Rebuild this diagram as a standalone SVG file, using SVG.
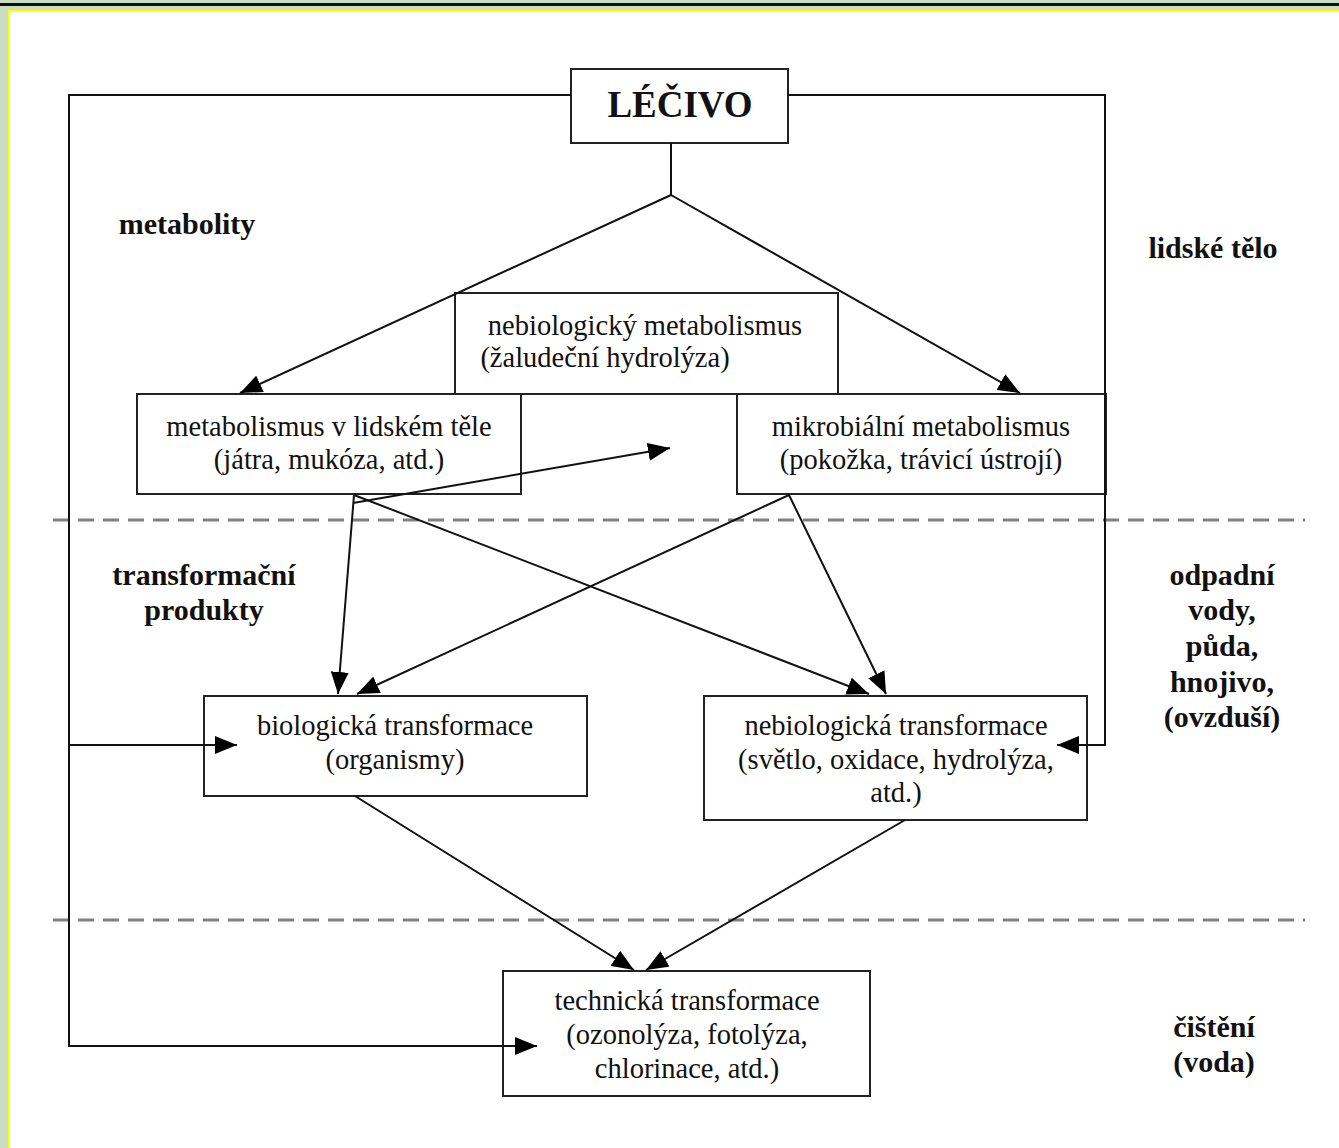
<svg xmlns="http://www.w3.org/2000/svg" width="1339" height="1148" viewBox="0 0 1339 1148">
<style>
.box{fill:#fff;stroke:#222;stroke-width:2}
.t{font-family:"Liberation Serif","Times New Roman",serif;font-size:28.5px;fill:#111;text-anchor:middle}
.b{font-family:"Liberation Serif","Times New Roman",serif;font-size:30px;font-weight:bold;fill:#111;text-anchor:middle}
.c{fill:none;stroke:#111;stroke-width:2}
.d{fill:none;stroke:#808080;stroke-width:3;stroke-dasharray:16 9}
</style>
<defs>
<marker id="ah" markerUnits="userSpaceOnUse" markerWidth="24" markerHeight="18" refX="22" refY="9" orient="auto">
<path d="M0,0 L22,9 L0,18 Z" fill="#000"/>
</marker>
</defs>
<rect x="0" y="0" width="1339" height="1148" fill="#c9dcc4"/>
<rect x="0" y="3" width="1339" height="3" fill="#111"/>
<rect x="8" y="10" width="1331" height="1138" fill="#ffff00"/>
<rect x="10" y="12" width="1329" height="1136" fill="#fff"/>

<g id="dividers">
<line class="d" x1="53" y1="520" x2="1305" y2="520"/>
<line class="d" x1="53" y1="920" x2="1305" y2="920"/>
</g>

<g id="lecivo">
<rect class="box" x="571" y="69" width="217" height="74"/>
<text class="b" x="680" y="117" style="font-size:37px">LÉČIVO</text>
</g>

<g id="nebiologicky-metabolismus">
<rect class="box" x="455" y="293" width="383" height="101"/>
<text class="t" x="645" y="335">nebiologický metabolismus</text>
<text class="t" x="605" y="367">(žaludeční hydrolýza)</text>
</g>

<g id="metabolismus-lidske-telo">
<rect class="box" x="137" y="394" width="384" height="100"/>
<text class="t" x="329" y="436">metabolismus v lidském těle</text>
<text class="t" x="329" y="469">(játra, mukóza, atd.)</text>
</g>

<g id="mikrobialni-metabolismus">
<rect class="box" x="737" y="394" width="369" height="100"/>
<text class="t" x="921" y="436">mikrobiální metabolismus</text>
<text class="t" x="921" y="469">(pokožka, trávicí ústrojí)</text>
</g>

<g id="biologicka-transformace">
<rect class="box" x="204" y="696" width="383" height="100"/>
<text class="t" x="395" y="735">biologická transformace</text>
<text class="t" x="395" y="769">(organismy)</text>
</g>

<g id="nebiologicka-transformace">
<rect class="box" x="704" y="696" width="383" height="124"/>
<text class="t" x="896" y="735">nebiologická transformace</text>
<text class="t" x="896" y="769">(světlo, oxidace, hydrolýza,</text>
<text class="t" x="896" y="802">atd.)</text>
</g>

<g id="technicka-transformace">
<rect class="box" x="503" y="971" width="367" height="125"/>
<text class="t" x="687" y="1010">technická transformace</text>
<text class="t" x="687" y="1044">(ozonolýza, fotolýza,</text>
<text class="t" x="687" y="1078">chlorinace, atd.)</text>
</g>

<g id="connectors">
<path class="c" d="M571,95 H69 V1046 H537" marker-end="url(#ah)"/>
<path class="c" d="M69,745 H237" marker-end="url(#ah)"/>
<path class="c" d="M788,95 H1105 V745 H1057" marker-end="url(#ah)"/>
<path class="c" d="M671,143 V195"/>
<path class="c" d="M671,195 L240,393" marker-end="url(#ah)"/>
<path class="c" d="M671,195 L1020,393" marker-end="url(#ah)"/>
<path class="c" d="M354,495 L338,694" marker-end="url(#ah)"/>
<path class="c" d="M354,495 L869,694" marker-end="url(#ah)"/>
<path class="c" d="M353,503 L670,448" marker-end="url(#ah)"/>
<path class="c" d="M789,495 L357,694" marker-end="url(#ah)"/>
<path class="c" d="M789,495 L886,694" marker-end="url(#ah)"/>
<path class="c" d="M355,796 L634,970" marker-end="url(#ah)"/>
<path class="c" d="M905,820 L646,970" marker-end="url(#ah)"/>
</g>

<g id="labels">
<text class="b" x="187" y="234">metabolity</text>
<text class="b" x="1213" y="258">lidské tělo</text>
<text class="b" x="204" y="585">transformační</text>
<text class="b" x="204" y="620">produkty</text>
<text class="b" x="1222" y="585">odpadní</text>
<text class="b" x="1222" y="620">vody,</text>
<text class="b" x="1222" y="656">půda,</text>
<text class="b" x="1222" y="692">hnojivo,</text>
<text class="b" x="1222" y="727">(ovzduší)</text>
<text class="b" x="1214" y="1037">čištění</text>
<text class="b" x="1214" y="1072">(voda)</text>
</g>
</svg>
